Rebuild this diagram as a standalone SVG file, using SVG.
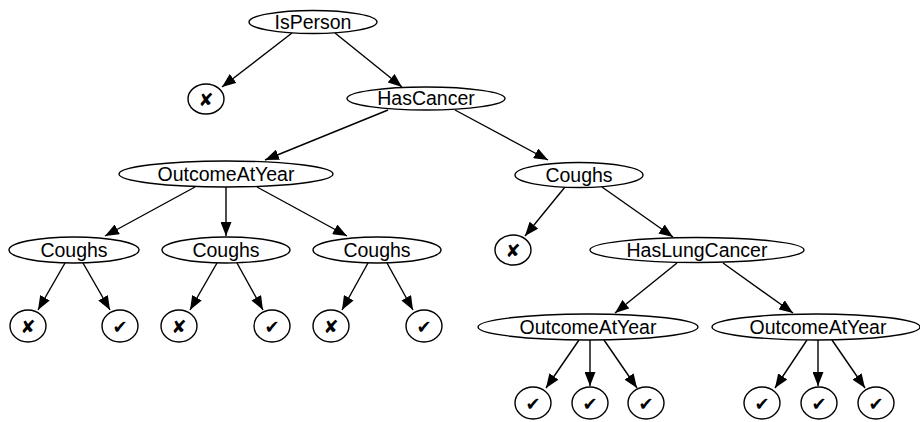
<svg xmlns="http://www.w3.org/2000/svg" width="920" height="422" viewBox="0 0 920 422">
  <style>
    .n ellipse { fill: #fff; stroke: #000; stroke-width: 1.4; }
    .n text { font-family: "Liberation Sans", Arial, sans-serif; font-size: 19.5px; text-anchor: middle; fill: #000; }
    .leaf text { font-family: "DejaVu Sans", sans-serif; font-size: 18px; font-weight: bold; }
    #edges line { stroke: #000; stroke-width: 1.4; marker-end: url(#arrow); }
  </style>
  <defs>
    <marker id="arrow" markerUnits="userSpaceOnUse" markerWidth="14" markerHeight="11" refX="14" refY="5.5" orient="auto">
      <path d="M0,0 L14,5.5 L0,11 z" fill="#000"/>
    </marker>
  </defs>
  <rect width="920" height="422" fill="#fff"/>

  <g id="edges">
    <line x1="292" y1="33" x2="222" y2="87"/>
    <line x1="335" y1="33" x2="402" y2="87"/>
    <line x1="388" y1="110" x2="265" y2="160"/>
    <line x1="455" y1="110" x2="548" y2="160"/>
    <line x1="195" y1="187" x2="105" y2="236"/>
    <line x1="226" y1="187" x2="226" y2="236"/>
    <line x1="257" y1="187" x2="347" y2="236"/>
    <line x1="565" y1="187" x2="525" y2="236"/>
    <line x1="602" y1="187" x2="673" y2="237"/>
    <line x1="65" y1="263" x2="38" y2="310"/>
    <line x1="83" y1="263" x2="110" y2="310"/>
    <line x1="217" y1="263" x2="190" y2="310"/>
    <line x1="237" y1="263" x2="263" y2="310"/>
    <line x1="368" y1="263" x2="342" y2="310"/>
    <line x1="387" y1="263" x2="413" y2="310"/>
    <line x1="677" y1="263" x2="615" y2="313"/>
    <line x1="723" y1="263" x2="793" y2="313"/>
    <line x1="579" y1="340" x2="546" y2="388"/>
    <line x1="590" y1="340" x2="590" y2="386"/>
    <line x1="604" y1="340" x2="637" y2="388"/>
    <line x1="807" y1="340" x2="775" y2="388"/>
    <line x1="818" y1="340" x2="818" y2="386"/>
    <line x1="832" y1="340" x2="865" y2="388"/>
  </g>

  <g id="isperson" class="n"><ellipse cx="313" cy="22" rx="64" ry="11.5"/><text x="313" y="28.5">IsPerson</text></g>
  <g id="no_person" class="n leaf"><ellipse cx="206" cy="99" rx="18" ry="15"/><text x="206" y="105.5">✘</text></g>
  <g id="hascancer" class="n"><ellipse cx="426" cy="98.5" rx="79" ry="11.5"/><text x="426" y="105">HasCancer</text></g>

  <g id="outcome_a" class="n"><ellipse cx="226" cy="174" rx="107" ry="13"/><text x="226" y="180.5">OutcomeAtYear</text></g>
  <g id="coughs_top" class="n"><ellipse cx="579" cy="175" rx="64" ry="12.5"/><text x="579" y="181.5">Coughs</text></g>

  <g id="coughs_1" class="n"><ellipse cx="74" cy="250" rx="65" ry="13"/><text x="74" y="256.5">Coughs</text></g>
  <g id="coughs_2" class="n"><ellipse cx="226" cy="250" rx="64" ry="13"/><text x="226" y="256.5">Coughs</text></g>
  <g id="coughs_3" class="n"><ellipse cx="377" cy="250" rx="64" ry="13"/><text x="377" y="256.5">Coughs</text></g>
  <g id="no_cough" class="n leaf"><ellipse cx="513" cy="250" rx="18" ry="15"/><text x="513" y="256.5">✘</text></g>
  <g id="haslungcancer" class="n"><ellipse cx="697" cy="250" rx="107" ry="12.5"/><text x="697" y="256.5">HasLungCancer</text></g>

  <g id="leaf_1" class="n leaf"><ellipse cx="28" cy="326" rx="18" ry="16"/><text x="28" y="332.5">✘</text></g>
  <g id="leaf_2" class="n leaf"><ellipse cx="120" cy="326" rx="18" ry="16"/><text x="120" y="332.5">✔</text></g>
  <g id="leaf_3" class="n leaf"><ellipse cx="179" cy="326" rx="18" ry="16"/><text x="179" y="332.5">✘</text></g>
  <g id="leaf_4" class="n leaf"><ellipse cx="272" cy="326" rx="18" ry="16"/><text x="272" y="332.5">✔</text></g>
  <g id="leaf_5" class="n leaf"><ellipse cx="331" cy="326" rx="18" ry="16"/><text x="331" y="332.5">✘</text></g>
  <g id="leaf_6" class="n leaf"><ellipse cx="424" cy="326" rx="18" ry="16"/><text x="424" y="332.5">✔</text></g>

  <g id="outcome_b" class="n"><ellipse cx="588" cy="327" rx="110" ry="13"/><text x="588" y="333.5">OutcomeAtYear</text></g>
  <g id="outcome_c" class="n"><ellipse cx="816" cy="327" rx="104" ry="13"/><text x="818" y="333.5">OutcomeAtYear</text></g>

  <g id="leaf_7" class="n leaf"><ellipse cx="533" cy="403" rx="18" ry="16"/><text x="533" y="409.5">✔</text></g>
  <g id="leaf_8" class="n leaf"><ellipse cx="590" cy="403" rx="18" ry="16"/><text x="590" y="409.5">✔</text></g>
  <g id="leaf_9" class="n leaf"><ellipse cx="646" cy="403" rx="18" ry="16"/><text x="646" y="409.5">✔</text></g>
  <g id="leaf_10" class="n leaf"><ellipse cx="762" cy="403" rx="18" ry="16"/><text x="762" y="409.5">✔</text></g>
  <g id="leaf_11" class="n leaf"><ellipse cx="819" cy="403" rx="18" ry="16"/><text x="819" y="409.5">✔</text></g>
  <g id="leaf_12" class="n leaf"><ellipse cx="876" cy="403" rx="18" ry="16"/><text x="876" y="409.5">✔</text></g>
</svg>
